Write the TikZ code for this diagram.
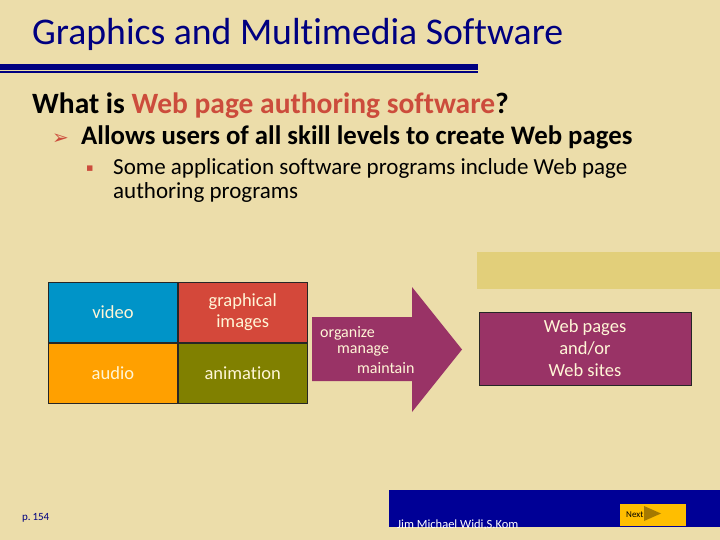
\documentclass[tikz,border=0pt]{standalone}
\usepackage{fontspec}
\setmainfont{Carlito}[Ligatures=NoCommon]
\newfontfamily\symfont{DejaVu Sans}
\usetikzlibrary{positioning}
\definecolor{slidebg}{RGB}{236,221,170}
\definecolor{titleblue}{RGB}{0,0,128}
\definecolor{accent}{RGB}{204,76,60}
\definecolor{tanbar}{RGB}{226,207,122}
\definecolor{videoblue}{RGB}{0,148,200}
\definecolor{imgred}{RGB}{212,72,58}
\definecolor{audioorange}{RGB}{255,160,0}
\definecolor{animolive}{RGB}{128,128,0}
\definecolor{cellfg}{RGB}{255,246,215}
\definecolor{plum}{RGB}{153,51,102}
\definecolor{footblue}{RGB}{0,0,150}
\definecolor{nextorange}{RGB}{255,190,0}
\definecolor{nextarrow}{RGB}{150,110,0}
\tikzset{txt/.style={anchor=base west, inner sep=0pt},
  cell/.style={draw=black!85, line width=0.8pt, minimum width=129pt, minimum height=60pt,
    inner sep=0pt, text=cellfg, align=center, font=\fontsize{18.5}{21}\selectfont}}
\begin{document}
\begin{tikzpicture}[x=1pt,y=-1pt]
\useasboundingbox (0,0) rectangle (720,540);
\fill[slidebg] (0,0) rectangle (720,540);
% heading
\node[txt, text=titleblue, font=\fontsize{37.7}{40}\selectfont] (title) at (32,45) {Graphics and Multimedia Software};
\fill[titleblue] (0,64) rectangle (478,70);
\fill[titleblue] (0,71.5) rectangle (478,73);
\node[txt, font=\bfseries\fontsize{29.5}{31}\selectfont] (question) at (32,114)
  {What is \textcolor{accent}{Web page authoring software}?};
\node[txt, text=accent, font=\symfont\fontsize{20}{22}\selectfont] (arrowbullet) at (52,145) {➢};
\node[txt, font=\bfseries\fontsize{26.8}{28}\selectfont] (allows) at (81,145)
  {Allows users of all skill levels to create Web pages};
\node[txt, text=accent, font=\symfont\fontsize{11}{12}\selectfont] (sqbullet) at (86,172) {▪};
\node[txt, font=\fontsize{23}{25}\selectfont] (some) at (113,175)
  {Some application software programs include Web page};
\node[txt, font=\fontsize{23}{25}\selectfont] (some2) at (113,199) {authoring programs};
\fill[tanbar] (477,252) rectangle (720,289);
% media grid
\node[cell, fill=videoblue, anchor=north west] (video) at (48,282) {video};
\node[cell, fill=imgred, right=0pt of video] (images) {graphical\\images};
\node[cell, fill=audioorange, below=0pt of video] (audio) {audio};
\node[cell, fill=animolive, right=0pt of audio] (anim) {animation};
% block arrow
\fill[plum] (312,317) -- (412,317) -- (412,287) -- (462,349.5) -- (412,412) -- (412,381)
  -- (312,381) -- cycle;
\node[txt, text=cellfg, font=\fontsize{16}{18}\selectfont] (organize) at (320,337) {organize};
\node[txt, text=cellfg, font=\fontsize{16}{18}\selectfont] (manage) at (337,353) {manage};
\node[txt, text=cellfg, font=\fontsize{16}{18}\selectfont] (maintain) at (357,373) {maintain};
\node[draw=black!85, line width=0.8pt, fill=plum, text=cellfg, minimum width=212pt, minimum height=73pt,
  align=center, font=\fontsize{18.5}{22}\selectfont] (web) at (585,348.5) {Web pages\\and/or\\Web sites};
% footer
\node[txt, text=titleblue, font=\fontsize{11}{12}\selectfont] (page) at (22,520) {p.\,154};
\fill[footblue] (389,490) rectangle (720,527);
\node[txt, text=white, font=\fontsize{12.5}{14}\selectfont] (author) at (397,528.5) {Jim Michael Widi,S.Kom};
\node[fill=nextorange, minimum width=66pt, minimum height=22pt, inner sep=0pt] (next) at (653,515) {};
\node[txt, font=\fontsize{9}{10}\selectfont] (nextlabel) at (626,517) {Next};
\fill[nextarrow, opacity=0.85] (644,506) -- (661,513.5) -- (644,521) -- cycle;
\end{tikzpicture}
\end{document}
